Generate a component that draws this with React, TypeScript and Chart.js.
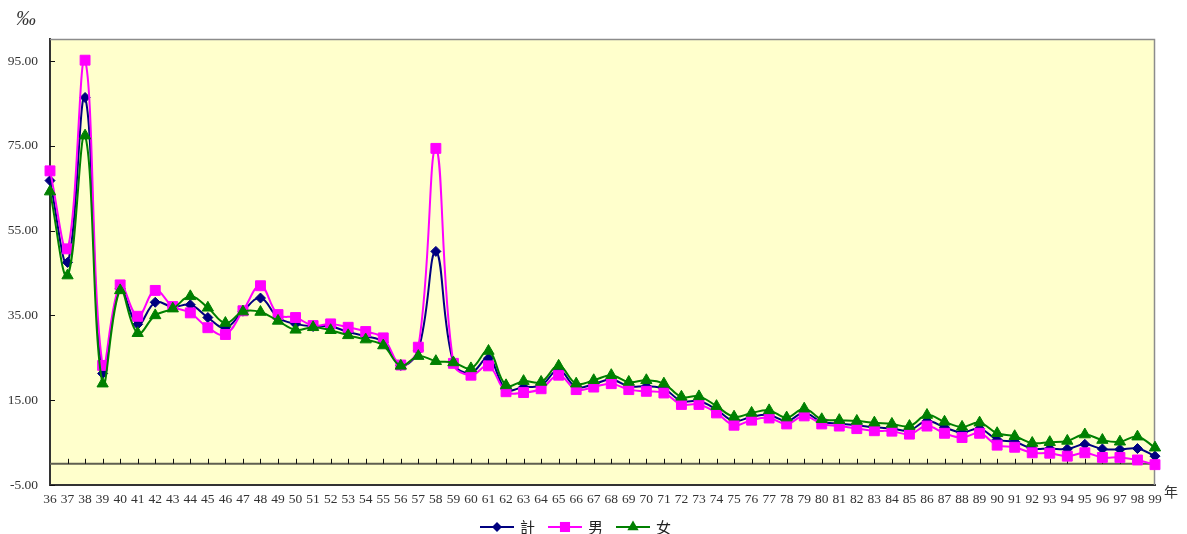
import React, { useEffect, useRef } from "react";
import { Chart, registerables } from "chart.js";

Chart.register(...registerables);

const years: string[] = [];
for (let y = 36; y <= 99; y++) years.push(String(y));

const totalValues = [
  66.8, 47.5, 86.4, 21.3, 41.3, 32.9, 38.1, 37.0, 37.5, 34.5,
  32.1, 36.0, 39.1, 34.5, 33.0, 32.4, 32.4, 31.1, 30.1, 28.7,
  23.2, 26.8, 50.1, 23.8, 21.5, 24.9, 17.5, 18.1, 18.5, 22.1,
  18.1, 18.8, 19.9, 18.3, 18.3, 17.7, 14.8, 14.8, 12.8, 10.1,
  11.1, 11.5, 10.1, 12.0, 9.9, 9.5, 9.1, 8.6, 8.3, 7.9,
  10.1, 8.6, 7.4, 8.3, 5.7, 5.2, 3.6, 3.6, 3.5, 4.6,
  3.5, 3.4, 3.6, 1.8,
];
const maleValues = [
  69.1, 50.7, 95.2, 23.2, 42.2, 34.8, 40.9, 37.1, 35.6, 32.1,
  30.5, 36.1, 42.0, 35.2, 34.5, 32.6, 33.0, 32.2, 31.2, 29.7,
  23.3, 27.5, 74.4, 23.7, 20.9, 23.1, 17.0, 16.8, 17.7, 20.9,
  17.5, 18.1, 18.9, 17.5, 17.1, 16.7, 14.0, 14.0, 12.0, 9.1,
  10.3, 10.8, 9.4, 11.3, 9.4, 8.9, 8.3, 7.8, 7.7, 7.0,
  8.9, 7.2, 6.2, 7.2, 4.4, 3.9, 2.6, 2.5, 1.8, 2.6,
  1.5, 1.5, 0.9, -0.2,
];
const femaleValues = [
  64.2, 44.4, 77.4, 18.9, 40.9, 30.8, 35.0, 36.6, 39.5, 36.8,
  33.2, 35.9, 35.8, 33.7, 31.6, 32.2, 31.5, 30.3, 29.3, 27.9,
  23.1, 25.4, 24.2, 23.9, 22.5, 26.6, 18.5, 19.5, 19.3, 23.1,
  18.9, 19.7, 20.9, 19.3, 19.7, 18.9, 15.8, 15.9, 13.6, 11.1,
  12.0, 12.6, 10.9, 13.0, 10.5, 10.3, 10.1, 9.7, 9.4, 8.9,
  11.5, 9.9, 8.7, 9.7, 7.2, 6.5, 4.9, 5.1, 5.4, 6.9,
  5.6, 5.2, 6.4, 3.8,
];
const yTicks = [-5, 15, 35, 55, 75, 95];
const seriesNames = ["計", "男", "女"];

const COLORS = ["#000080", "#FF00FF", "#008000"];
const STYLES = ["rectRot", "rect", "triangle"];
const RADII = [5, 7, 6.5];

const labelColor = "#333333";
const serif = "'Liberation Serif', 'DejaVu Serif', serif";
const cjk = "'Noto Sans CJK TC', 'Noto Sans CJK SC', sans-serif";

function drawMarker(ctx: CanvasRenderingContext2D, style: string, r: number, x: number, y: number) {
  ctx.beginPath();
  if (style === "rectRot") {
    ctx.moveTo(x, y - r);
    ctx.lineTo(x + r, y);
    ctx.lineTo(x, y + r);
    ctx.lineTo(x - r, y);
  } else if (style === "rect") {
    ctx.rect(x - r * 0.72, y - r * 0.72, r * 1.44, r * 1.44);
  } else {
    ctx.moveTo(x, y - r);
    ctx.lineTo(x + r * 0.87, y + r * 0.5);
    ctx.lineTo(x - r * 0.87, y + r * 0.5);
  }
  ctx.closePath();
  ctx.fill();
}

const decorPlugin = {
  id: "decor",
  beforeDraw(chart: any) {
    const { ctx, chartArea } = chart;
    ctx.save();
    ctx.fillStyle = "#FFFFCC";
    ctx.fillRect(chartArea.left, chartArea.top, chartArea.right - chartArea.left, chartArea.bottom - chartArea.top);
    ctx.restore();
  },
  beforeDatasetsDraw(chart: any) {
    const { ctx, chartArea } = chart;
    const xs = chart.scales.x;
    const ys = chart.scales.y;
    ctx.save();
    ctx.strokeStyle = "#8c8c8c";
    ctx.lineWidth = 1.5;
    ctx.beginPath();
    ctx.moveTo(chartArea.left, chartArea.top + 0.5);
    ctx.lineTo(chartArea.right - 0.5, chartArea.top + 0.5);
    ctx.lineTo(chartArea.right - 0.5, chartArea.bottom);
    ctx.stroke();
    const y0 = ys.getPixelForValue(0);
    ctx.strokeStyle = "#5f5f50";
    ctx.lineWidth = 2;
    ctx.beginPath();
    ctx.moveTo(chartArea.left, y0);
    ctx.lineTo(chartArea.right, y0);
    ctx.stroke();
    ctx.strokeStyle = "#111111";
    ctx.lineWidth = 1;
    for (let i = 1; i < years.length; i++) {
      const x = Math.round(xs.getPixelForValue(i)) + 0.5;
      ctx.beginPath();
      ctx.moveTo(x, y0);
      ctx.lineTo(x, y0 - 5);
      ctx.stroke();
    }
    for (const v of yTicks) {
      const y = Math.round(ys.getPixelForValue(v)) + 0.5;
      ctx.beginPath();
      ctx.moveTo(chartArea.left, y);
      ctx.lineTo(chartArea.left + 5, y);
      ctx.stroke();
    }
    ctx.restore();
  },
  afterDraw(chart: any) {
    const { ctx } = chart;
    ctx.save();
    ctx.fillStyle = labelColor;
    ctx.font = "italic 20px " + serif;
    ctx.textAlign = "left";
    ctx.textBaseline = "middle";
    ctx.fillText("‰", 16, 20);
    ctx.font = "14px " + cjk;
    ctx.fillText("年", 1164, 492);
    const legendY = 527;
    const starts = [480, 548, 616];
    for (let i = 0; i < 3; i++) {
      const x0 = starts[i];
      ctx.strokeStyle = COLORS[i];
      ctx.lineWidth = 2;
      ctx.beginPath();
      ctx.moveTo(x0, legendY);
      ctx.lineTo(x0 + 34, legendY);
      ctx.stroke();
      ctx.fillStyle = COLORS[i];
      const r = i === 0 ? 5 : i === 1 ? 7 : 6.5;
      drawMarker(ctx, STYLES[i], r, x0 + 17, legendY);
      ctx.fillStyle = "#222222";
      ctx.font = "15px " + cjk;
      ctx.textAlign = "left";
      ctx.textBaseline = "middle";
      ctx.fillText(seriesNames[i], x0 + 40, legendY);
    }
    ctx.restore();
  },
};

export default function App() {
  const canvasRef = useRef<HTMLCanvasElement | null>(null);

  useEffect(() => {
    if (!canvasRef.current) return;
    const seriesData = [totalValues, maleValues, femaleValues];
    const chart = new Chart(canvasRef.current, {
      type: "line",
      data: {
        labels: years,
        datasets: seriesData.map((d, i) => ({
          label: seriesNames[i],
          data: d,
          borderColor: COLORS[i],
          backgroundColor: COLORS[i],
          borderWidth: 2,
          pointStyle: STYLES[i] as any,
          pointRadius: RADII[i],
          pointBorderWidth: 1,
          pointBorderColor: COLORS[i],
          pointBackgroundColor: COLORS[i],
          tension: 0.4,
          fill: false,
          order: i === 2 ? 0 : i === 1 ? 1 : 2,
        })),
      },
      options: {
        animation: false,
        responsive: true,
        maintainAspectRatio: false,
        layout: { padding: { left: 0, top: 39, right: 32, bottom: 0 } },
        plugins: {
          legend: { display: false },
          tooltip: { enabled: false },
        },
        scales: {
          x: {
            type: "category",
            offset: false,
            grid: { display: false, drawTicks: false },
            border: { display: true, color: "#333333", width: 2 },
            ticks: {
              autoSkip: false,
              maxRotation: 0,
              minRotation: 0,
              padding: 6,
              color: labelColor,
              font: { family: serif, size: 13.5 },
            },
            afterFit: (scale: any) => {
              scale.height = 49;
            },
          },
          y: {
            min: -5,
            max: 100.2,
            grid: { display: false, drawTicks: false },
            border: { display: true, color: "#333333", width: 2 },
            afterBuildTicks: (scale: any) => {
              scale.ticks = yTicks.map((v) => ({ value: v }));
            },
            ticks: {
              padding: 12,
              color: labelColor,
              font: { family: serif, size: 13.5 },
              callback: (v: any) => Number(v).toFixed(2),
            },
            afterFit: (scale: any) => {
              scale.width = 50;
            },
          },
        },
      },
      plugins: [decorPlugin],
    });
    return () => chart.destroy();
  }, []);

  return (
    <div style={{ position: "absolute", left: 0, top: 0, width: 1187, height: 534, background: "#ffffff" }}>
      <canvas ref={canvasRef} />
    </div>
  );
}
